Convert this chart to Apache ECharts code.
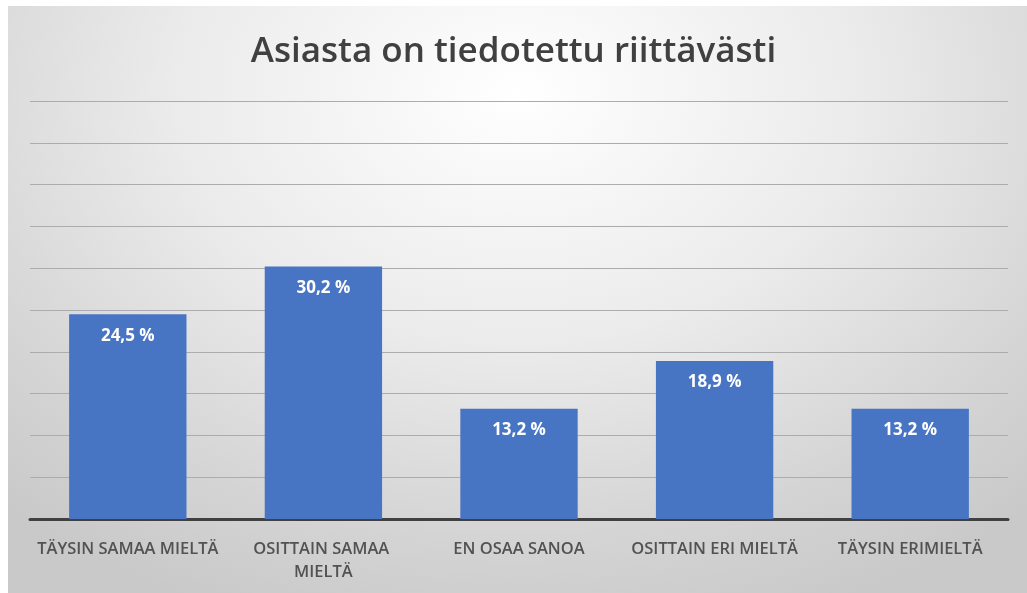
<!DOCTYPE html>
<html>
<head>
<meta charset="utf-8">
<title>Asiasta on tiedotettu riittävästi</title>
<script src="https://cdn.jsdelivr.net/npm/echarts@6/dist/echarts.min.js"></script>
<style>
  html, body { margin: 0; padding: 0; background: #ffffff; }
  #bg {
    position: absolute; left: 8px; top: 6px; width: 1019px; height: 587px;
    background: radial-gradient(ellipse 75% 95% at 50% 15%, #ffffff 0%, #ebebeb 45%, #d4d4d4 80%, #c9c9c9 100%);
  }
  #main { position: absolute; left: 0; top: 0; width: 1027px; height: 593px; }
</style>
</head>
<body>
<div id="bg"></div>
<div id="main"></div>
<script>
// vastaukset (%)
var categories = ['TÄYSIN SAMAA MIELTÄ', 'OSITTAIN SAMAA MIELTÄ', 'EN OSAA SANOA', 'OSITTAIN ERI MIELTÄ', 'TÄYSIN ERIMIELTÄ'];
var values = [24.5, 30.2, 13.2, 18.9, 13.2];

var myChart = echarts.init(document.getElementById('main'));
var option = {
  backgroundColor: 'transparent',
  title: {
    text: 'Asiasta on tiedotettu riittävästi',
    left: 'center',
    top: 30,
    textStyle: {
      fontFamily: 'Open Sans',
      fontSize: 35,
      fontWeight: 600,
      color: '#404040'
    }
  },
  grid: {
    left: 30,
    right: 19,
    top: 101,
    bottom: 74
  },
  xAxis: {
    type: 'category',
    data: categories,
    axisTick: { show: false },
    axisLine: { lineStyle: { color: '#404040', width: 3 } },
    axisLabel: {
      interval: 0,
      margin: 19,
      fontFamily: 'Open Sans',
      fontSize: 16.5,
      fontWeight: 600,
      color: '#525252',
      width: 196,
      overflow: 'break',
      lineHeight: 23
    }
  },
  yAxis: {
    type: 'value',
    min: 0,
    max: 50,
    interval: 5,
    axisLabel: { show: false },
    axisLine: { show: false },
    axisTick: { show: false },
    splitLine: { lineStyle: { color: '#acacac', width: 1 } }
  },
  series: [{
    type: 'bar',
    data: values,
    barCategoryGap: '40%',
    itemStyle: { color: '#4874c4' },
    label: {
      show: true,
      position: 'insideTop',
      distance: 13,
      color: '#ffffff',
      fontFamily: 'Open Sans',
      fontWeight: 'bold',
      fontSize: 17,
      formatter: function (p) {
        return p.value.toFixed(1).replace('.', ',') + ' %';
      }
    }
  }]
};
myChart.setOption(option);
</script>
</body>
</html>
